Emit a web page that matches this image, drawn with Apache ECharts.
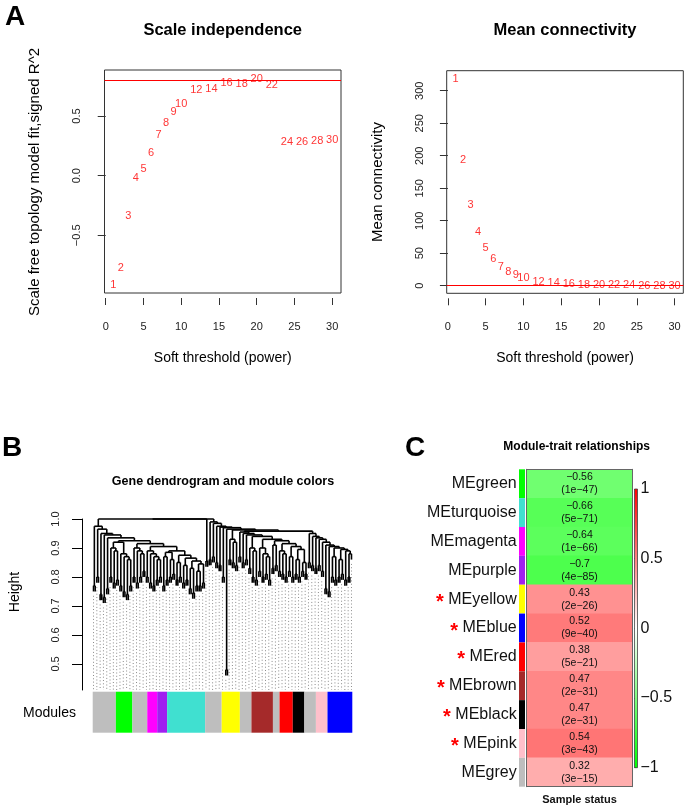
<!DOCTYPE html>
<html>
<head>
<meta charset="utf-8">
<title>WGCNA</title>
<script src="https://cdn.jsdelivr.net/npm/echarts@6/dist/echarts.min.js"></script>
<style>html,body{margin:0;padding:0;background:#fff}</style>
</head>
<body>
<div id="main" style="width:685px;height:808px"></div>
<script>
// panel A
var powers = [1, 2, 3, 4, 5, 6, 7, 8, 9, 10, 12, 14, 16, 18, 20, 22, 24, 26, 28, 30];
var scaleFitR2 = [-0.92, -0.77, -0.34, -0.02, 0.06, 0.19, 0.34, 0.44, 0.53, 0.60, 0.72, 0.73, 0.78, 0.77, 0.81, 0.76, 0.28, 0.28, 0.29, 0.30];
var meanConnectivity = [317.5, 193, 124, 83, 57.5, 40.6, 29.2, 21.5, 16, 12.3, 6.2, 3.7, 2.6, 1.5, 0.9, 0.6, 0.4, 0.3, 0.2, 0.15];
var powerTicks = [0, 5, 10, 15, 20, 25, 30];
var r2Ticks = [-0.5, 0, 0.5];
var kTicks = [0, 50, 100, 150, 200, 250, 300];
var r2Cutoff = 0.8;
var kCutoff = 0;

// panel B: merge height between neighbouring leaves (leaf order of the tree)
var mergeGaps = [
  0.77, 0.975, 0.80, 0.965, 0.74, 0.95, 0.73, 0.945, 0.76, 0.935,
  0.80, 0.90, 0.78, 0.89, 0.79, 0.92, 0.77, 0.88, 0.75, 0.87,
  0.74, 0.86, 0.77, 0.925, 0.80, 0.90, 0.78, 0.89, 0.80, 0.88,
  0.82, 0.915, 0.80, 0.89, 0.78, 0.88, 0.77, 0.87, 0.79, 0.86,
  0.80, 0.905, 0.77, 0.87, 0.79, 0.885, 0.80, 0.86, 0.81, 0.89,
  0.79, 0.85, 0.80, 0.875, 0.78, 0.84, 0.79, 0.865, 0.76, 0.83,
  0.745, 0.855, 0.77, 0.82, 0.77, 0.845, 0.78, 1.0, 0.855, 1.0,
  0.86, 0.99, 0.87, 0.985, 0.85, 0.975, 0.84, 0.972, 0.80, 0.97,
  0.48, 0.965, 0.86, 0.93, 0.85, 0.92, 0.84, 0.962, 0.87, 0.955,
  0.85, 0.95, 0.86, 0.945, 0.83, 0.90, 0.80, 0.89, 0.79, 0.94,
  0.82, 0.90, 0.80, 0.88, 0.81, 0.87, 0.79, 0.93, 0.83, 0.91,
  0.84, 0.925, 0.82, 0.89, 0.81, 0.88, 0.80, 0.915, 0.82, 0.87,
  0.80, 0.905, 0.81, 0.86, 0.80, 0.895, 0.82, 0.85, 0.81, 0.958,
  0.85, 0.95, 0.84, 0.94, 0.83, 0.935, 0.84, 0.93, 0.82, 0.92,
  0.76, 0.91, 0.75, 0.905, 0.80, 0.87, 0.79, 0.90, 0.80, 0.86,
  0.81, 0.895, 0.79, 0.89, 0.80, 0.88
];
var heightTicks = [0.5, 0.6, 0.7, 0.8, 0.9, 1.0];
var moduleNames = ['grey', 'green', 'grey', 'magenta', 'purple', 'turquoise', 'grey', 'yellow', 'grey', 'brown', 'grey', 'red', 'black', 'grey', 'pink', 'blue'];
var moduleSizes = [14, 10, 9, 6, 6, 23, 10, 11, 7, 13, 4, 8, 7, 7, 7, 15];

// panel C
var traitModules = ['MEgreen', 'MEturquoise', 'MEmagenta', 'MEpurple', 'MEyellow', 'MEblue', 'MEred', 'MEbrown', 'MEblack', 'MEpink', 'MEgrey'];
var traitCor = [-0.56, -0.66, -0.64, -0.7, 0.43, 0.52, 0.38, 0.47, 0.47, 0.54, 0.32];
var traitP = ['1e-47', '5e-71', '1e-66', '4e-85', '2e-26', '9e-40', '5e-21', '2e-31', '2e-31', '3e-43', '3e-15'];
var traitStar = [false, false, false, false, true, true, true, true, true, true, false];
var corTicks = [-1, -0.5, 0, 0.5, 1];

var rColors = {
  grey: '#BEBEBE', green: '#00FF00', magenta: '#FF00FF', purple: '#A020F0',
  turquoise: '#40E0D0', yellow: '#FFFF00', brown: '#A52A2A', red: '#FF0000',
  black: '#000000', pink: '#FFC0CB', blue: '#0000FF'
};

var FONT = 'Liberation Sans, Arial, sans-serif';
var HANG = 0.02;
var HMIN = 0.41;
var nLeaves = mergeGaps.length + 1;

function minus(s) { return String(s).replace('-', '\u2212'); }

// build hclust-like tree from neighbour merge heights
function build(lo, hi) {
  if (lo === hi) return { x: lo + 1, leaf: true };
  var k = lo, best = -1;
  for (var i = lo; i < hi; i++) {
    if (mergeGaps[i] >= best) { best = mergeGaps[i]; k = i; }
  }
  var l = build(lo, k), r = build(k + 1, hi);
  return { x: (l.x + r.x) / 2, h: best, l: l, r: r };
}
var segs = [];
var leafBottom = [];
function walk(node) {
  [node.l, node.r].forEach(function (c) {
    var ch = c.leaf ? node.h - HANG : c.h;
    if (c.leaf) leafBottom[c.x - 1] = ch;
    segs.push([c.x, node.h, c.x, ch]);
    if (!c.leaf) walk(c);
  });
  segs.push([node.l.x, node.h, node.r.x, node.h]);
}
walk(build(0, nLeaves - 1));

var guides = [];
for (var g = 0; g < nLeaves; g += 2) guides.push([g + 1, leafBottom[g] - 0.015, g + 1, HMIN]);

var moduleBlocks = [];
var pos = 1;
moduleNames.forEach(function (m, i) {
  moduleBlocks.push([pos, pos + moduleSizes[i] - 1, i]);
  pos += moduleSizes[i];
});

function lineItem(color, width, dash) {
  return function (params, api) {
    var a = api.coord([api.value(0), api.value(1)]);
    var b = api.coord([api.value(2), api.value(3)]);
    return {
      type: 'line',
      shape: { x1: a[0], y1: a[1], x2: b[0], y2: b[1] },
      style: { stroke: color, lineWidth: width, lineDash: dash || null }
    };
  };
}

function text(t, x, y, size, bold, rot, align) {
  return {
    type: 'text', x: x, y: y, rotation: rot || 0,
    style: {
      text: t, fill: '#000', font: (bold ? 'bold ' : '') + size + 'px ' + FONT,
      textAlign: align || 'center', textVerticalAlign: 'middle',
      align: align || 'center', verticalAlign: 'middle'
    }
  };
}

var tickStyle = { color: '#333', width: 1 };
function powerAxis(grid) {
  return {
    gridIndex: grid, type: 'value', min: -0.16, max: 31.16, offset: 5,
    axisLine: { show: false, onZero: false }, splitLine: { show: false },
    axisTick: { show: true, customValues: powerTicks, length: 7, lineStyle: tickStyle },
    axisLabel: { customValues: powerTicks, margin: 23, fontSize: 11, color: '#222', fontFamily: FONT }
  };
}

var myChart = echarts.init(document.getElementById('main'));

var option = {
  animation: false,
  textStyle: { fontFamily: FONT },
  grid: [
    { left: 104.5, top: 70, width: 236.5, height: 223, show: true, borderColor: '#333', borderWidth: 1, backgroundColor: 'transparent', outerBoundsMode: 'none' },
    { left: 446.7, top: 70.7, width: 236.6, height: 222.6, show: true, borderColor: '#333', borderWidth: 1, backgroundColor: 'transparent', outerBoundsMode: 'none' },
    { left: 92.7, top: 519, width: 259.6, height: 171, outerBoundsMode: 'none' },
    { left: 92.7, top: 691.7, width: 259.6, height: 41, outerBoundsMode: 'none' },
    { left: 526.7, top: 469.3, width: 105.6, height: 317.4, outerBoundsMode: 'none' },
    { left: 519, top: 469.3, width: 6, height: 317.4, outerBoundsMode: 'none' },
    { left: 634.5, top: 489, width: 3, height: 278.7, outerBoundsMode: 'none' }
  ],
  xAxis: [
    powerAxis(0),
    powerAxis(1),
    { gridIndex: 2, type: 'value', min: 0.5, max: nLeaves + 0.5, show: false },
    { gridIndex: 3, type: 'value', min: 0.5, max: nLeaves + 0.5, show: false },
    {
      gridIndex: 4, type: 'category', data: ['Sample status'], z: 10,
      axisLine: { lineStyle: { color: '#666' } }, axisTick: { show: false },
      axisLabel: { margin: 8, fontSize: 11, fontWeight: 'bold', color: '#111' }
    },
    {
      gridIndex: 4, type: 'category', data: ['Sample status'], position: 'top', z: 10,
      axisLine: { lineStyle: { color: '#666' } }, axisTick: { show: false }, axisLabel: { show: false }
    },
    { gridIndex: 5, type: 'value', min: 0, max: 1, show: false },
    { gridIndex: 6, type: 'value', min: 0, max: 1, show: false }
  ],
  yAxis: [
    {
      gridIndex: 0, type: 'value', min: -0.984, max: 0.886,
      axisLine: { show: false }, splitLine: { show: false },
      axisTick: { show: true, customValues: r2Ticks, length: 8, lineStyle: tickStyle },
      axisLabel: {
        customValues: r2Ticks, rotate: 90, margin: 22, fontSize: 11, color: '#222',
        formatter: function (v) { return minus(v.toFixed(1)); }
      }
    },
    {
      gridIndex: 1, type: 'value', min: -11.7, max: 330.8,
      axisLine: { show: false }, splitLine: { show: false },
      axisTick: { show: true, customValues: kTicks, length: 8, lineStyle: tickStyle },
      axisLabel: { customValues: kTicks, rotate: 90, margin: 21, fontSize: 11, color: '#222' }
    },
    {
      gridIndex: 2, type: 'value', min: HMIN, max: 1.0, offset: 10.7,
      axisLine: { show: true, lineStyle: { color: '#000', width: 1 } }, splitLine: { show: false },
      axisTick: { customValues: heightTicks, length: 10, lineStyle: { color: '#000' } },
      axisLabel: {
        customValues: heightTicks, rotate: 90, margin: 21, fontSize: 11, color: '#222',
        formatter: function (v) { return v.toFixed(1); }
      }
    },
    { gridIndex: 3, type: 'value', min: 0, max: 1, show: false },
    {
      gridIndex: 4, type: 'category', data: traitModules, inverse: true, z: 10,
      axisLine: { lineStyle: { color: '#666' } }, axisTick: { show: false },
      axisLabel: {
        margin: 10, fontSize: 16, color: '#111',
        formatter: function (v, i) { return (traitStar[i] ? '{s|*} ' : '') + v; },
        rich: { s: { color: '#FF0000', fontSize: 20, fontWeight: 'bold', padding: [6, 0, 0, 0] } }
      }
    },
    {
      gridIndex: 4, type: 'category', data: traitModules, inverse: true, position: 'right', z: 10,
      axisLine: { lineStyle: { color: '#666' } }, axisTick: { show: false }, axisLabel: { show: false }
    },
    { gridIndex: 5, type: 'category', data: traitModules, inverse: true, show: false },
    {
      gridIndex: 6, type: 'value', min: -1, max: 1, interval: 0.5, position: 'right',
      axisLine: { show: false }, splitLine: { show: false },
      axisTick: { length: 2, lineStyle: { color: '#333' } },
      axisLabel: { margin: 3, fontSize: 16, color: '#111', formatter: function (v) { return minus(v); } }
    }
  ],
  visualMap: {
    type: 'continuous', show: false, min: -1, max: 1, seriesIndex: 5,
    inRange: { color: ['#00FF00', '#FFFFFF', '#FF0000'] }
  },
  series: [
    {
      type: 'scatter', xAxisIndex: 0, yAxisIndex: 0, symbolSize: 1,
      itemStyle: { color: 'rgba(0,0,0,0)' },
      data: powers.map(function (p, i) { return [p, scaleFitR2[i]]; }),
      label: { show: true, position: 'inside', color: '#FF0000', fontSize: 11, formatter: function (p) { return p.value[0]; } },
      markLine: { silent: true, symbol: 'none', label: { show: false }, lineStyle: { color: '#FF0000', width: 1, type: 'solid' }, data: [{ yAxis: r2Cutoff }] }
    },
    {
      type: 'scatter', xAxisIndex: 1, yAxisIndex: 1, symbolSize: 1,
      itemStyle: { color: 'rgba(0,0,0,0)' },
      data: powers.map(function (p, i) { return [p, meanConnectivity[i]]; }),
      label: { show: true, position: 'inside', color: '#FF0000', fontSize: 11, formatter: function (p) { return p.value[0]; } },
      markLine: { silent: true, symbol: 'none', label: { show: false }, lineStyle: { color: '#FF0000', width: 1, type: 'solid' }, data: [{ yAxis: kCutoff }] }
    },
    {
      type: 'custom', xAxisIndex: 2, yAxisIndex: 2, z: 3,
      encode: { x: [0, 2], y: [1, 3] }, data: segs,
      renderItem: lineItem('#000', 1.6)
    },
    {
      type: 'custom', xAxisIndex: 2, yAxisIndex: 2, z: 2,
      encode: { x: [0, 2], y: [1, 3] }, data: guides,
      renderItem: lineItem('#8a8a8a', 1, [1, 2.3])
    },
    {
      type: 'custom', xAxisIndex: 3, yAxisIndex: 3,
      encode: { x: [0, 1] }, data: moduleBlocks,
      renderItem: function (params, api) {
        var a = api.coord([api.value(0) - 0.5, 1]);
        var b = api.coord([api.value(1) + 0.5, 0]);
        return {
          type: 'rect', shape: { x: a[0], y: a[1], width: b[0] - a[0], height: b[1] - a[1] },
          style: { fill: rColors[moduleNames[api.value(2)]] }
        };
      }
    },
    {
      type: 'heatmap', xAxisIndex: 4, yAxisIndex: 4,
      data: traitCor.map(function (c, i) { return [0, i, c]; }),
      label: {
        show: true, color: '#111', fontSize: 10.5, lineHeight: 13,
        formatter: function (p) { var i = p.value[1]; return minus(traitCor[i]) + '\n(' + minus(traitP[i]) + ')'; }
      },
      itemStyle: { borderWidth: 0 }
    },
    {
      type: 'custom', xAxisIndex: 6, yAxisIndex: 6,
      data: traitModules.map(function (m, i) { return [i]; }),
      encode: { y: 0 },
      renderItem: function (params, api) {
        var i = api.value(0);
        var a = api.coord([0, i]), b = api.coord([1, i]);
        var h = api.size([0, 1])[1];
        return {
          type: 'rect', shape: { x: a[0], y: a[1] - h / 2, width: b[0] - a[0], height: h },
          style: { fill: rColors[traitModules[i].slice(2)] }
        };
      }
    },
    {
      type: 'custom', xAxisIndex: 7, yAxisIndex: 7,
      data: [[0, corTicks[0], 1, corTicks[corTicks.length - 1]]],
      encode: { x: [0, 2], y: [1, 3] },
      renderItem: function (params, api) {
        var a = api.coord([api.value(0), api.value(3)]);
        var b = api.coord([api.value(2), api.value(1)]);
        return {
          type: 'rect', shape: { x: a[0], y: a[1], width: b[0] - a[0], height: b[1] - a[1] },
          style: {
            stroke: '#444', lineWidth: 0.8,
            fill: new echarts.graphic.LinearGradient(0, 0, 0, 1, [
              { offset: 0, color: '#FF0000' }, { offset: 0.5, color: '#FFFFFF' }, { offset: 1, color: '#00FF00' }
            ])
          }
        };
      }
    }
  ],
  graphic: [
    text('A', 15, 17, 28, true),
    text('B', 12, 448, 28, true),
    text('C', 415, 448, 28, true),
    text('Scale independence', 222.7, 30, 16.5, true),
    text('Mean connectivity', 565, 30, 16.5, true),
    text('Soft threshold (power)', 222.7, 358, 14, false),
    text('Soft threshold (power)', 565, 358, 14, false),
    text('Scale free topology model fit,signed R^2', 35, 182, 15, false, Math.PI / 2),
    text('Mean connectivity', 378, 182, 15, false, Math.PI / 2),
    text('Gene dendrogram and module colors', 223, 482, 12.5, true),
    text('Height', 15, 592, 14, false, Math.PI / 2),
    text('Modules', 76, 713, 14, false, 0, 'right'),
    text('Module-trait relationships', 576.7, 447, 12, true)
  ]
};

myChart.setOption(option);
</script>
</body>
</html>
